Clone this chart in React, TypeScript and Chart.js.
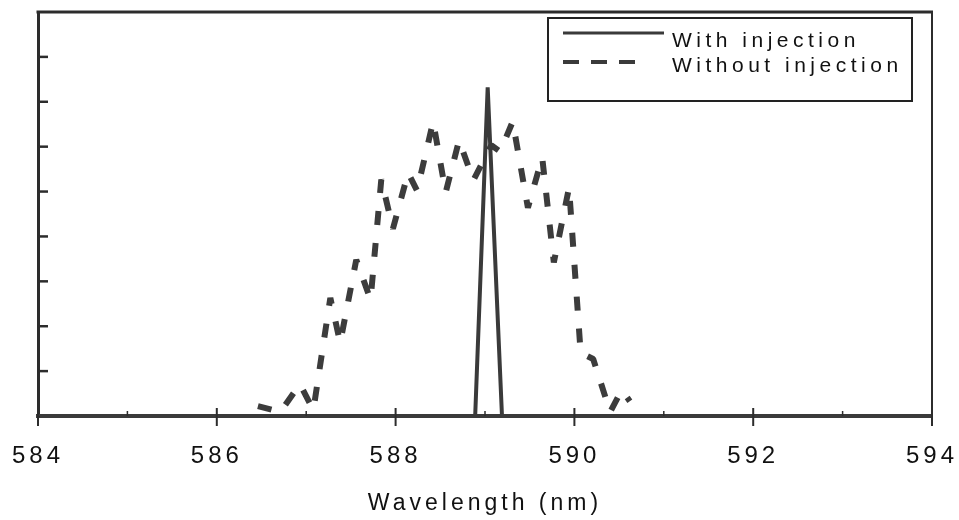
import React, { useEffect, useRef } from "react";
import { Chart, registerables } from "chart.js";

Chart.register(...registerables);

// ---- data ----
const solidWavelength = [584, 588.89, 589.03, 589.19, 594];
const solidIntensity = [0, 0, 7.32, 0, 0];

const dashedWavelength = [
  586.46, 586.71, 586.93, 587.08, 587.27, 587.38, 587.56, 587.72, 587.84, 587.97,
  588.14, 588.24, 588.42, 588.56, 588.71, 588.87, 589.07, 589.17, 589.31, 589.48,
  589.64, 589.77, 589.94, 590.07, 590.21, 590.4, 590.53, 590.62,
];
const dashedIntensity = [
  0.22, 0.09, 0.71, 0.13, 2.63, 1.63, 3.48, 2.59, 5.27, 4.17,
  5.42, 5.02, 6.56, 4.98, 6.14, 5.25, 6.03, 5.89, 6.56, 4.64,
  5.76, 3.42, 5.09, 1.41, 1.27, 0.09, 0.58, 0.33,
];

const xMajorTicks = [584, 586, 588, 590, 592, 594];
const xMinorTicks = [585, 587, 589, 591, 593];
const yTicks = [1, 2, 3, 4, 5, 6, 7, 8];
const seriesLabels = ["With injection", "Without injection"];
const xAxisTitle = "Wavelength (nm)";

const FONT = '"Liberation Sans", Arial, Helvetica, sans-serif';
const LINE = "#3a3a3a";
const AXIS = "#2c2c2c";

const framePlugin = {
  id: "framePlugin",
  beforeDraw(chart: any) {
    (chart.ctx as any).letterSpacing = "4px";
  },
  afterDraw(chart: any) {
    const ctx = chart.ctx as CanvasRenderingContext2D;
    const { left, right, top, bottom } = chart.chartArea;
    const xs = chart.scales.x;
    const ys = chart.scales.y;
    ctx.save();
    ctx.strokeStyle = AXIS;
    ctx.lineCap = "butt";
    // top and right frame
    ctx.lineWidth = 3;
    ctx.beginPath();
    ctx.moveTo(left - 1.5, top);
    ctx.lineTo(right + 1, top);
    ctx.stroke();
    ctx.lineWidth = 2;
    ctx.beginPath();
    ctx.moveTo(right, top);
    ctx.lineTo(right, bottom + 8);
    ctx.stroke();
    // y inward ticks
    ctx.lineWidth = 2.5;
    for (const v of yTicks) {
      const y = ys.getPixelForValue(v);
      ctx.beginPath();
      ctx.moveTo(left, y);
      ctx.lineTo(left + 10, y);
      ctx.stroke();
    }
    // x ticks
    ctx.lineWidth = 2;
    for (const v of xMajorTicks) {
      const x = xs.getPixelForValue(v);
      ctx.beginPath();
      ctx.moveTo(x, bottom - 8);
      ctx.lineTo(x, bottom + 10);
      ctx.stroke();
    }
    ctx.lineWidth = 1.5;
    for (const v of xMinorTicks) {
      const x = xs.getPixelForValue(v);
      ctx.beginPath();
      ctx.moveTo(x, bottom - 5);
      ctx.lineTo(x, bottom);
      ctx.stroke();
    }
    // legend
    const lx = 548, ly = 18, lw = 364, lh = 83;
    ctx.fillStyle = "#ffffff";
    ctx.fillRect(lx, ly, lw, lh);
    ctx.lineWidth = 2;
    ctx.strokeStyle = "#222";
    ctx.strokeRect(lx, ly, lw, lh);
    ctx.strokeStyle = LINE;
    ctx.lineWidth = 3;
    ctx.beginPath();
    ctx.moveTo(563, 33);
    ctx.lineTo(664, 33);
    ctx.stroke();
    ctx.lineWidth = 4;
    ctx.setLineDash([16, 12]);
    ctx.beginPath();
    ctx.moveTo(563, 62);
    ctx.lineTo(640, 62);
    ctx.stroke();
    ctx.setLineDash([]);
    ctx.fillStyle = "#111";
    ctx.font = "21px " + FONT;
    (ctx as any).letterSpacing = "4.5px";
    ctx.textAlign = "left";
    ctx.textBaseline = "alphabetic";
    ctx.fillText(seriesLabels[0], 672, 47);
    ctx.fillText(seriesLabels[1], 672, 72);
    ctx.restore();
  },
};

export default function App() {
  const ref = useRef<HTMLCanvasElement | null>(null);
  useEffect(() => {
    if (!ref.current) return;
    const chart = new Chart(ref.current, {
      type: "line",
      data: {
        datasets: [
          {
            label: seriesLabels[0],
            data: solidWavelength.map((x, i) => ({ x, y: solidIntensity[i] })),
            borderColor: LINE,
            borderWidth: 4,
            pointRadius: 0,
            tension: 0,
            borderJoinStyle: "miter",
          },
          {
            label: seriesLabels[1],
            data: dashedWavelength.map((x, i) => ({ x, y: dashedIntensity[i] })),
            borderColor: "#3c3c3c",
            borderWidth: 6,
            borderDash: [14, 18],
            borderCapStyle: "butt",
            borderJoinStyle: "bevel",
            pointRadius: 0,
            tension: 0,
          },
        ],
      },
      options: {
        responsive: false,
        animation: false,
        devicePixelRatio: 1,
        layout: { padding: { top: 12, right: 27, left: 0, bottom: 0 } },
        plugins: { legend: { display: false }, tooltip: { enabled: false } },
        scales: {
          x: {
            type: "linear",
            min: 584,
            max: 594,
            afterFit: (s: any) => {
              s.height = 104;
            },
            afterBuildTicks: (s: any) => {
              s.ticks = xMajorTicks.map((v) => ({ value: v }));
            },
            ticks: {
              color: "#111",
              font: { family: FONT, size: 24 },
              padding: 0,
              maxRotation: 0,
              callback: (v: any) => String(v),
            },
            grid: { display: false, drawTicks: true, tickLength: 26 },
            border: { display: true, color: "#3a3a3a", width: 4 },
            title: {
              display: true,
              text: xAxisTitle,
              color: "#111",
              font: { family: FONT, size: 23 },
              padding: { top: 0, bottom: 3 },
            },
          },
          y: {
            type: "linear",
            min: 0,
            max: 9,
            afterFit: (s: any) => {
              s.width = 38;
            },
            ticks: { display: false, stepSize: 1 },
            grid: { display: false, drawTicks: false },
            border: { display: true, color: AXIS, width: 3 },
          },
        },
      },
      plugins: [framePlugin],
    } as any);
    return () => chart.destroy();
  }, []);
  return (
    <div style={{ position: "fixed", left: 0, top: 0, width: 959, height: 520, background: "#fff" }}>
      <canvas ref={ref} width={959} height={520} style={{ display: "block" }} />
    </div>
  );
}
